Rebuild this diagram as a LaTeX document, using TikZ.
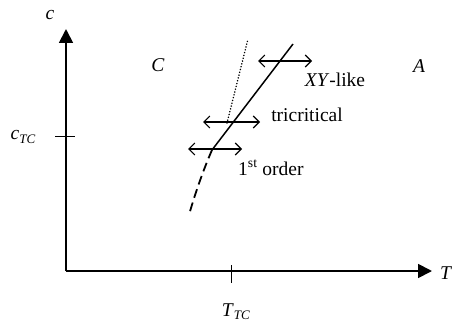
\documentclass[tikz,border=0pt]{standalone}
\usepackage{fontspec}
\setmainfont{Liberation Serif}
\usetikzlibrary{arrows.meta}
\tikzset{
  axis/.style={line width=1.8pt,-{Triangle[length=14pt,width=14pt]}},
  tick/.style={line width=0.9pt},
  phase/.style={line width=1.5pt},
  dbl/.style={line width=1.1pt,{Straight Barb[length=6pt,width=12pt]}-{Straight Barb[length=6pt,width=12pt]}},
  lbl/.style={inner sep=0pt,font=\fontsize{19.5}{22}\selectfont},
}
\newcommand{\subtc}[1]{\textit{#1}\raisebox{-0.35ex}{\fontsize{13}{15}\selectfont\textit{TC}}}
\begin{document}
\begin{tikzpicture}[x=1pt,y=-1pt]
\useasboundingbox (0,0) rectangle (452,326);
% axes
\coordinate (O) at (66,271);
\coordinate (Ytop) at (66,29);
\coordinate (Xend) at (432,271);
\draw[axis] (O) -- (Ytop);
\draw[axis] (O) -- (Xend);
% ticks
\coordinate (cT1) at (55,136); \coordinate (cT2) at (75,136);
\draw[tick] (cT1) -- (cT2);
\coordinate (tT1) at (231,265); \coordinate (tT2) at (231,283);
\draw[tick] (tT1) -- (tT2);
% axis labels
\node[lbl] (clab) at (50,15) {\textit{c}};
\node[lbl,anchor=west] (Tlab) at (440,273) {\textit{T}};
\node[lbl] (ctc) at (23,137) {\subtc{c}};
\node[lbl] (ttc) at (236,312) {\subtc{T}};
% phase lines
\coordinate (top) at (293,44);
\coordinate (tc) at (227,123);
\coordinate (fo) at (212,150);
\coordinate (bot) at (189,215);
\coordinate (dtop) at (248,39);
\draw[phase] (fo) -- (top);
\draw[line width=1.8pt,dash pattern=on 9pt off 5pt] (fo) .. controls (205,166) and (196,190) .. (bot);
\draw[line width=1.6pt,line cap=round,dash pattern=on 0.1pt off 2.8pt] (tc) -- (dtop);
% double arrows
\coordinate (a1) at (258,61); \coordinate (b1) at (312,61);
\coordinate (a2) at (203,122); \coordinate (b2) at (260,122);
\coordinate (a3) at (188,149); \coordinate (b3) at (242,149);
\draw[dbl] (a1) -- (b1);
\draw[dbl] (a2) -- (b2);
\draw[dbl] (a3) -- (b3);
% labels
\node[lbl] (C) at (158,65) {\textit{C}};
\node[lbl] (A) at (419,66) {\textit{A}};
\node[lbl] (xy) at (335,80) {\textit{XY}-like};
\node[lbl] (tri) at (307,115) {tricritical};
\node[lbl,anchor=west] (fst) at (238,168) {1\textsuperscript{st} order};
\end{tikzpicture}
\end{document}
